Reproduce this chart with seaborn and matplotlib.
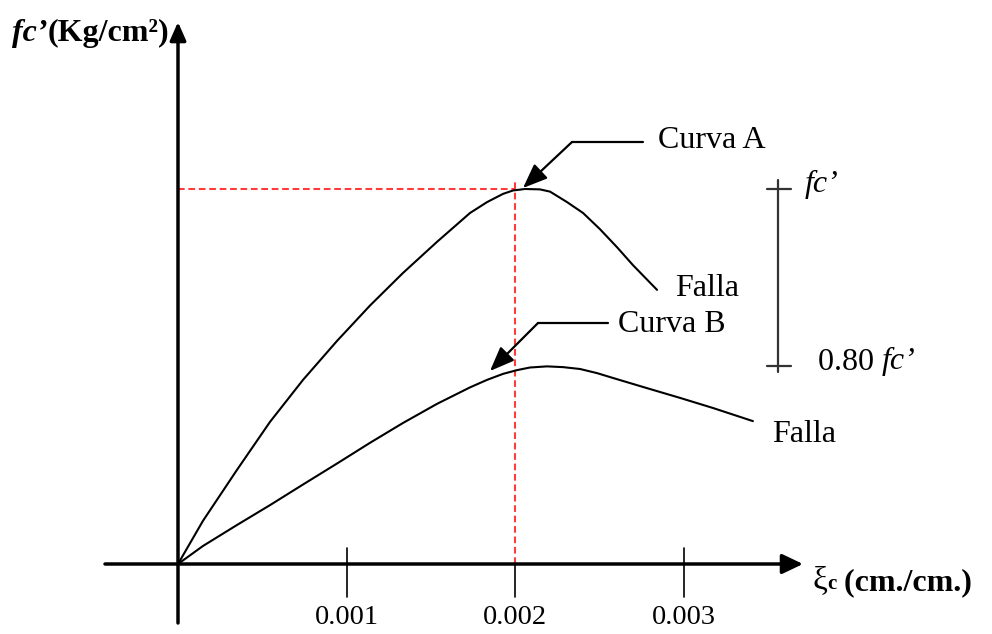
import matplotlib
matplotlib.use("Agg")
import matplotlib.pyplot as plt
import seaborn as sns
import pandas as pd

# ---------------- data ----------------
strain_a = [0.0, 0.148e-3, 0.350e-3, 0.546e-3, 0.742e-3, 0.944e-3, 1.139e-3, 1.335e-3,
            1.537e-3, 1.733e-3, 1.834e-3, 1.929e-3, 1.988e-3, 2.059e-3, 2.148e-3,
            2.208e-3, 2.309e-3, 2.404e-3, 2.504e-3, 2.605e-3, 2.700e-3, 2.843e-3]
stress_a = [0.0, 0.115, 0.251, 0.379, 0.491, 0.595, 0.689, 0.776,
            0.859, 0.936, 0.965, 0.987, 0.996, 1.000, 0.999,
            0.993, 0.965, 0.936, 0.893, 0.845, 0.797, 0.731]

strain_b = [0.0, 0.148e-3, 0.350e-3, 0.546e-3, 0.742e-3, 0.944e-3, 1.139e-3, 1.335e-3,
            1.537e-3, 1.733e-3, 1.834e-3, 1.929e-3, 2.012e-3, 2.089e-3, 2.190e-3,
            2.285e-3, 2.386e-3, 2.487e-3, 2.582e-3, 2.783e-3, 2.979e-3, 3.175e-3,
            3.412e-3]
stress_b = [0.0, 0.048, 0.104, 0.157, 0.212, 0.268, 0.323, 0.376,
            0.427, 0.471, 0.491, 0.507, 0.517, 0.524, 0.527,
            0.525, 0.520, 0.509, 0.496, 0.469, 0.443, 0.416,
            0.381]

curve_names = ["Curva A", "Curva B"]
tick_values = [0.001, 0.002, 0.003]
tick_labels = ["0.001", "0.002", "0.003"]
peak_strain = 0.002
fc_level = 1.0
range_levels = [1.0, 0.528]

# ---------------- layout helpers (pixel -> data) ----------------
W, H = 992, 634
X0, PX_PER_MILLI = 178, 168.5
Y0, PX_PER_FC = 564, 375


def dx(px):
    return (px - X0) / PX_PER_MILLI * 1e-3


def dy(py):
    return (Y0 - py) / PX_PER_FC


sns.set_theme(style="white")
plt.rcParams["font.family"] = ["Liberation Serif", "DejaVu Serif"]
plt.rcParams["text.color"] = "black"

fig = plt.figure(figsize=(9.92, 6.34), dpi=100)
ax = fig.add_axes([0, 0, 1, 1])
ax.set_xlim(dx(0), dx(W))
ax.set_ylim(dy(H), dy(0))
ax.axis("off")

df = pd.concat([
    pd.DataFrame({"strain": strain_a, "stress": stress_a, "curve": curve_names[0]}),
    pd.DataFrame({"strain": strain_b, "stress": stress_b, "curve": curve_names[1]}),
])
sns.lineplot(data=df, x="strain", y="stress", units="curve", estimator=None,
             sort=False, color="black", lw=1.5, ax=ax, legend=False, zorder=4)
for ln in ax.get_lines():
    ln.set_solid_joinstyle("round")

# red dashed reference lines
red = "#ff3b3b"
ax.plot([0, peak_strain], [fc_level, fc_level], color=red, lw=1.5,
        dashes=(3.2, 1.8), zorder=2)
ax.plot([peak_strain, peak_strain], [0, dy(180)], color=red, lw=1.5,
        dashes=(3.2, 1.8), zorder=2)

# axes arrows
ax.annotate("", xy=(dx(803), 0), xytext=(dx(105), 0),
            arrowprops=dict(arrowstyle="-|>,head_length=0.42,head_width=0.2",
                            mutation_scale=30, lw=2.5, color="black",
                            shrinkA=0, shrinkB=0), zorder=5)
ax.annotate("", xy=(0, dy(22)), xytext=(0, dy(623)),
            arrowprops=dict(arrowstyle="-|>,head_length=0.5,head_width=0.22",
                            mutation_scale=22, lw=2.5, color="black",
                            shrinkA=0, shrinkB=0), zorder=5)

# ticks and tick labels
for t, lab in zip(tick_values, tick_labels):
    top = dy(548) if t != peak_strain else 0
    ax.plot([t, t], [top, dy(597)], color="black", lw=1.2, zorder=3)
    ax.text(t, dy(617), lab, ha="center", va="center", fontsize=20.5)

# axis labels
yl = ax.text(dx(12), dy(33), "fc’", fontsize=23, fontweight="bold",
             fontstyle="italic", ha="left", va="center")
ax.annotate("(Kg/cm²)", xy=(1, 0), xycoords=yl, fontsize=23, fontweight="bold",
            ha="left", va="bottom")

xl = ax.text(dx(812), dy(581), "ξ", fontsize=24, ha="left", va="center")
xl2 = ax.annotate("c", xy=(1, 0.08), xycoords=xl, fontsize=15, fontweight="bold",
                  ha="left", va="bottom")
ax.annotate(" (cm./cm.)", xy=(1, -0.15), xycoords=xl2, fontsize=23,
            fontweight="bold", ha="left", va="bottom")

# curve labels with pointer arrows
arrow_kw = dict(arrowstyle="-|>,head_length=0.75,head_width=0.3",
                mutation_scale=20, lw=1.6, color="black", shrinkA=0, shrinkB=0)
ax.plot([dx(572), dx(643)], [dy(142), dy(142)], color="black", lw=1.6, zorder=5)
ax.annotate("", xy=(dx(523), dy(188)), xytext=(dx(572), dy(142)),
            arrowprops=arrow_kw, zorder=5)
ax.text(dx(658), dy(140), curve_names[0], fontsize=23, ha="left", va="center")

ax.plot([dx(538), dx(608)], [dy(323), dy(323)], color="black", lw=1.6, zorder=5)
ax.annotate("", xy=(dx(490), dy(371)), xytext=(dx(538), dy(323)),
            arrowprops=arrow_kw, zorder=5)
ax.text(dx(618), dy(324), curve_names[1], fontsize=23, ha="left", va="center")

ax.text(dx(675), dy(288), "Falla", fontsize=23, ha="left", va="center")
ax.text(dx(772), dy(434), "Falla", fontsize=23, ha="left", va="center")

# range bar fc' .. 0.80 fc'
bar_x = dx(778)
bar_col = "#333333"
ax.plot([bar_x, bar_x], [dy(180), dy(372)], color=bar_col, lw=1.6)
for lv in range_levels:
    ax.plot([dx(767), dx(791)], [lv, lv], color=bar_col, lw=1.6)
ax.text(dx(805), dy(184), "fc’", fontsize=23, fontstyle="italic",
        ha="left", va="center")
t1 = ax.text(dx(818), dy(362), "0.80 ", fontsize=23, ha="left", va="center")
ax.annotate("fc’", xy=(1, 0), xycoords=t1, fontsize=23, fontstyle="italic",
            ha="left", va="bottom")

fig.savefig("out.png", dpi=100)
